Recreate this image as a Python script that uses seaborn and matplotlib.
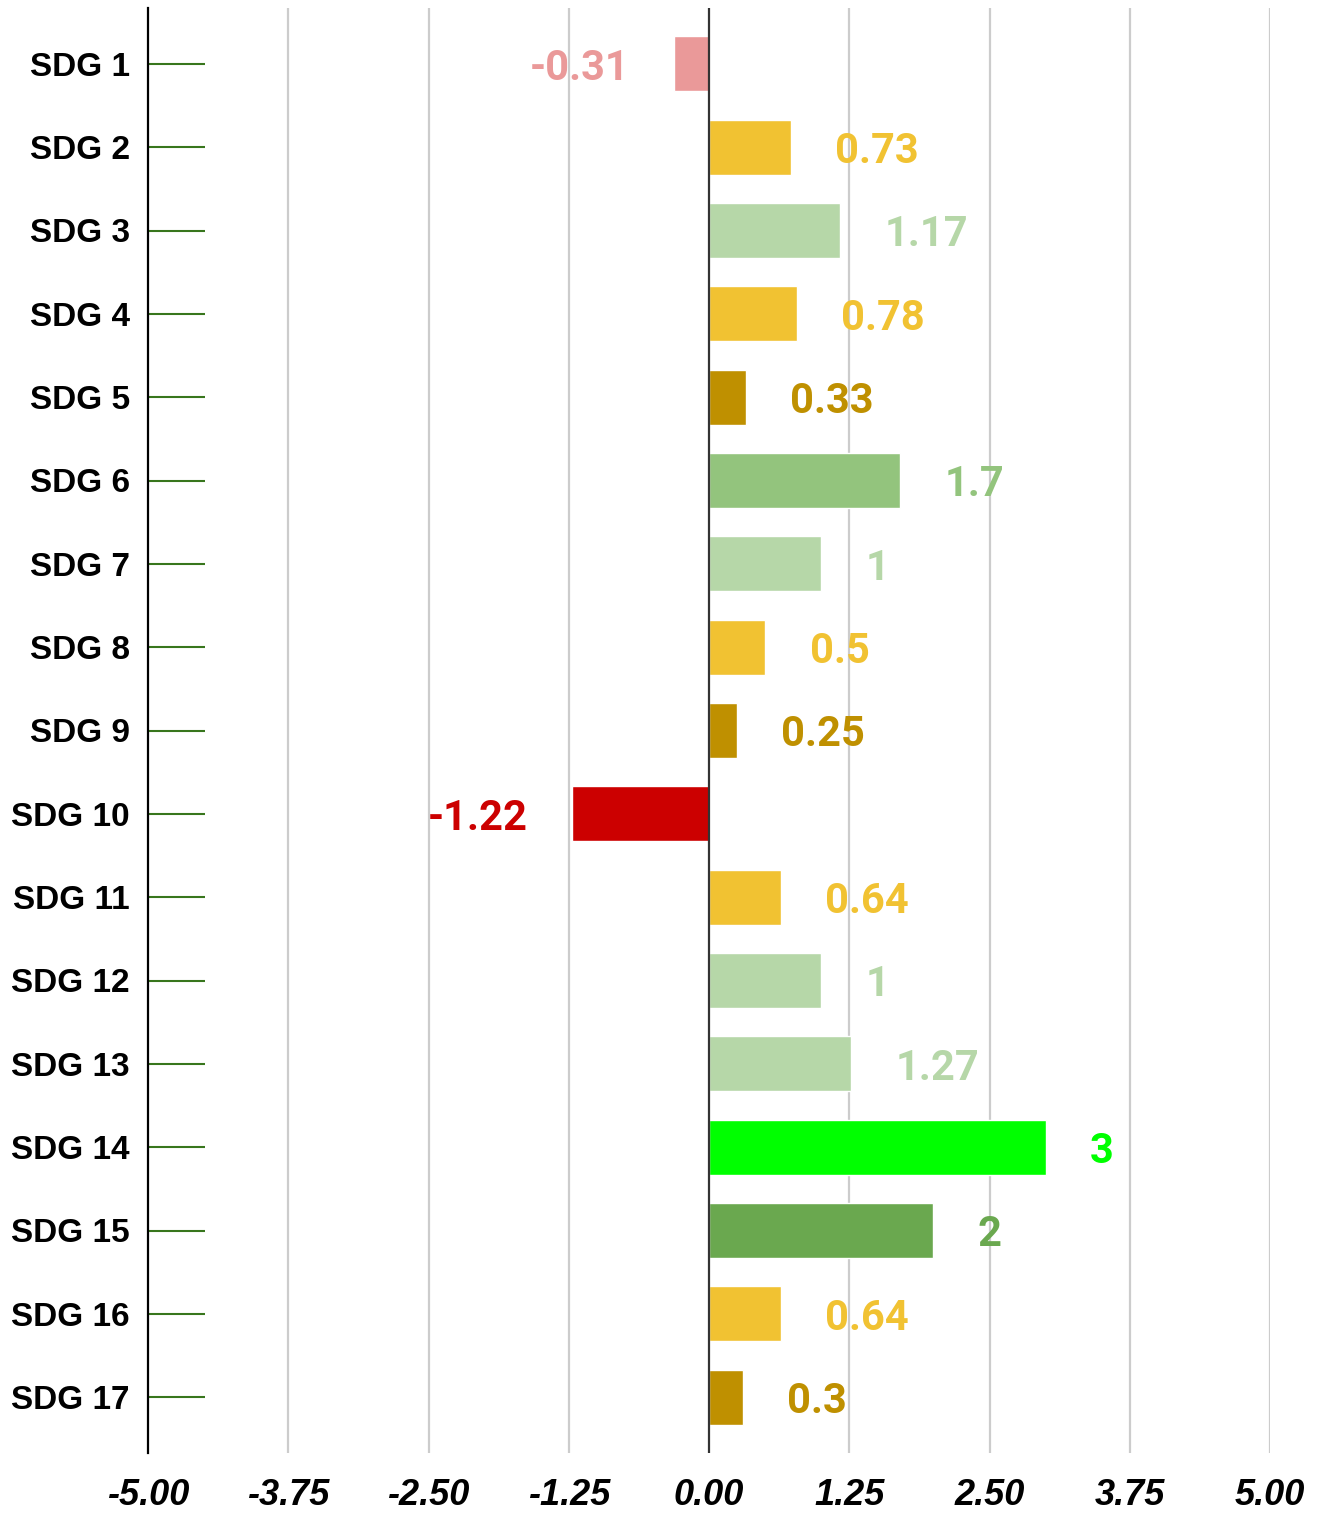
import matplotlib
matplotlib.use("Agg")
import matplotlib.pyplot as plt
import seaborn as sns
import pandas as pd

# data
goals = ["SDG 1", "SDG 2", "SDG 3", "SDG 4", "SDG 5", "SDG 6", "SDG 7", "SDG 8", "SDG 9",
         "SDG 10", "SDG 11", "SDG 12", "SDG 13", "SDG 14", "SDG 15", "SDG 16", "SDG 17"]
scores = [-0.31, 0.73, 1.17, 0.78, 0.33, 1.7, 1, 0.5, 0.25,
          -1.22, 0.64, 1, 1.27, 3, 2, 0.64, 0.3]
bar_colors = ["#EA9999", "#F1C232", "#B6D7A8", "#F1C232", "#BF9000", "#93C47D", "#B6D7A8",
              "#F1C232", "#BF9000", "#CC0000", "#F1C232", "#B6D7A8", "#B6D7A8", "#00FF00",
              "#6AA84F", "#F1C232", "#BF9000"]
xticks = [-5.0, -3.75, -2.5, -1.25, 0.0, 1.25, 2.5, 3.75, 5.0]

df = pd.DataFrame({"goal": goals, "score": scores})

sns.set_style("white")
plt.rcParams["font.family"] = ["Liberation Sans", "DejaVu Sans"]

fig = plt.figure(figsize=(13.25, 15.13), dpi=100)
ax = fig.add_axes([148 / 1325, 1 - 1453 / 1513, 1122 / 1325, 1445 / 1513])

sns.barplot(data=df, x="score", y="goal", hue="goal", palette=bar_colors, saturation=1,
            orient="h", width=0.66, legend=False, ax=ax, zorder=2)

ax.set_xlim(-5, 5)
ax.set_ylim(16.67, -0.67)
ax.set_xticks(xticks)
ax.set_xticklabels([f"{t:.2f}" for t in xticks], fontsize=26, fontweight="bold",
                   fontstyle="italic", color="black")
ax.set_xlabel("")
ax.set_ylabel("")
for lbl in ax.get_yticklabels():
    lbl.set_fontsize(24)
    lbl.set_fontweight("bold")
    lbl.set_color("black")

for x in xticks[1:]:
    if x == 0:
        ax.axvline(0, color="#333333", lw=1.6, zorder=3)
    else:
        ax.axvline(x, color="#CCCCCC", lw=1.6, zorder=1)

# long green ticks pointing into the plot
ax.tick_params(axis="y", left=True, direction="in", length=41, width=1.5,
               color="#38761D", pad=13)
ax.tick_params(axis="x", length=0, pad=18)

for s in ["top", "right", "bottom"]:
    ax.spines[s].set_visible(False)
ax.spines["left"].set_color("black")
ax.spines["left"].set_linewidth(1.6)
ax.spines["left"].set_zorder(4)

for i, (v, c) in enumerate(zip(scores, bar_colors)):
    off = 32 if v >= 0 else -32
    ax.annotate(f"{v:g}", (v, i), xytext=(off, 0), textcoords="offset points",
                ha="left" if v >= 0 else "right", va="center_baseline",
                color=c, fontsize=30, fontweight="bold", family=["Roboto", "DejaVu Sans"])

fig.savefig("out.png", dpi=100)
